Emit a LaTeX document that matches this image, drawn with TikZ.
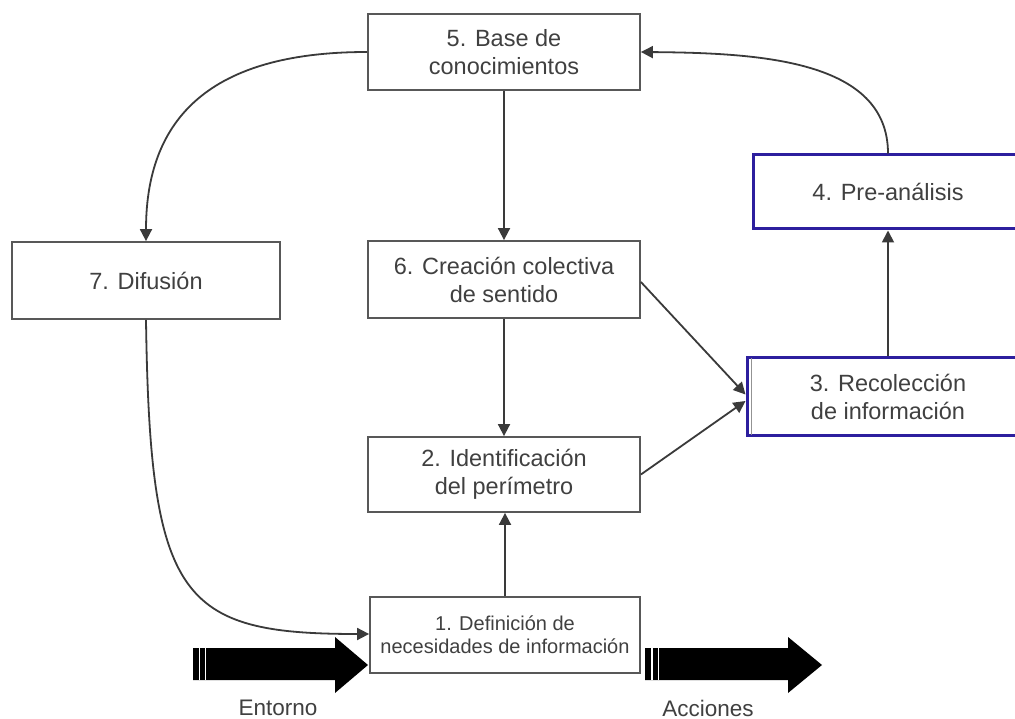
\documentclass[tikz,border=0pt]{standalone}
\usepackage{fontspec}
\setmainfont{Liberation Sans}
\usetikzlibrary{arrows.meta}
\definecolor{ink}{HTML}{3A3A3A}
\definecolor{txt}{HTML}{404040}
\definecolor{bluebox}{HTML}{2D1F9E}
\begin{document}
\begin{tikzpicture}[x=1pt,y=-1pt,
  box/.style={draw=ink!85, line width=1.8pt, fill=white, minimum width=272pt, minimum height=76pt, align=center, text=txt, font=\fontsize{23.5}{28}\selectfont, inner sep=0pt},
  blueframe/.style={box, draw=bluebox, line width=3pt},
  conn/.style={draw=ink, line width=1.8pt, -{Triangle[length=12pt,width=12pt]}},
  lbl/.style={text=txt, font=\fontsize{22.5}{26}\selectfont}
]
\path[use as bounding box, fill=white] (0,0) rectangle (1015,719);
\clip (0,0) rectangle (1015,719);

\node[box] (b5) at (504,52) {5. Base de\\conocimientos};
\node[box, minimum width=268pt, minimum height=77pt] (b7) at (146,280.5) {7. Difusión};
\node[box, minimum height=77pt] (b6) at (504,279.5) {6. Creación colectiva\\de sentido};
\node[box, minimum height=75pt] (b2) at (504,474.5) {2. Identificación\\del perímetro};
\node[box, minimum width=270pt, font=\fontsize{20}{23}\selectfont] (b1) at (505,635) {1. Definición de\\necesidades de información};
\node[blueframe, minimum width=270pt, minimum height=74pt] (b4) at (888,192) {4. Pre-análisis};
\node[blueframe, minimum width=282pt, minimum height=77pt] (b3) at (888,396.5) {3. Recolección\\de información};
\draw[ink!55, line width=1pt] ([xshift=6pt,yshift=-1.5pt]b3.north west) -- ([xshift=6pt,yshift=1.5pt]b3.south west);

\draw[conn] (b5) -- (b6);
\draw[conn] (b6) -- (b2);
\draw[conn] (b1.north) -- (b1.north |- b2.south);
\draw[conn] (b3) -- (b4);
\draw[conn] ([yshift=-2.5pt]b6.east) -- ([yshift=2pt]b3.west);
\draw[conn] (b2.east) -- ([yshift=-4.5pt]b3.west);
\draw[conn] (b4.north) .. controls (888,60) and (760,53) .. (b5.east);
\draw[conn] (b5.west) .. controls (220,52) and (146,110) .. (b7.north);
\draw[conn] (b7.south) .. controls (150,600) and (180,634) .. ([yshift=1pt]b1.west);

\fill[black] (193,648) -- (335,648) -- (335,637) -- (368,665) -- (335,693) -- (335,680) -- (193,680) -- cycle;
\draw[white, line width=1.5pt] (199.5,648) -- (199.5,680);
\draw[white, line width=1pt] (205,648) -- (205,680);
\fill[black] (645,648) -- (788,648) -- (788,637) -- (822,665) -- (788,693) -- (788,680) -- (645,680) -- cycle;
\draw[white, line width=1.5pt] (652,648) -- (652,680);
\draw[white, line width=1pt] (658,648) -- (658,680);

\node[lbl] (ent) at (278,708) {Entorno};
\node[lbl] (acc) at (708,708) {Acciones};
\end{tikzpicture}
\end{document}
